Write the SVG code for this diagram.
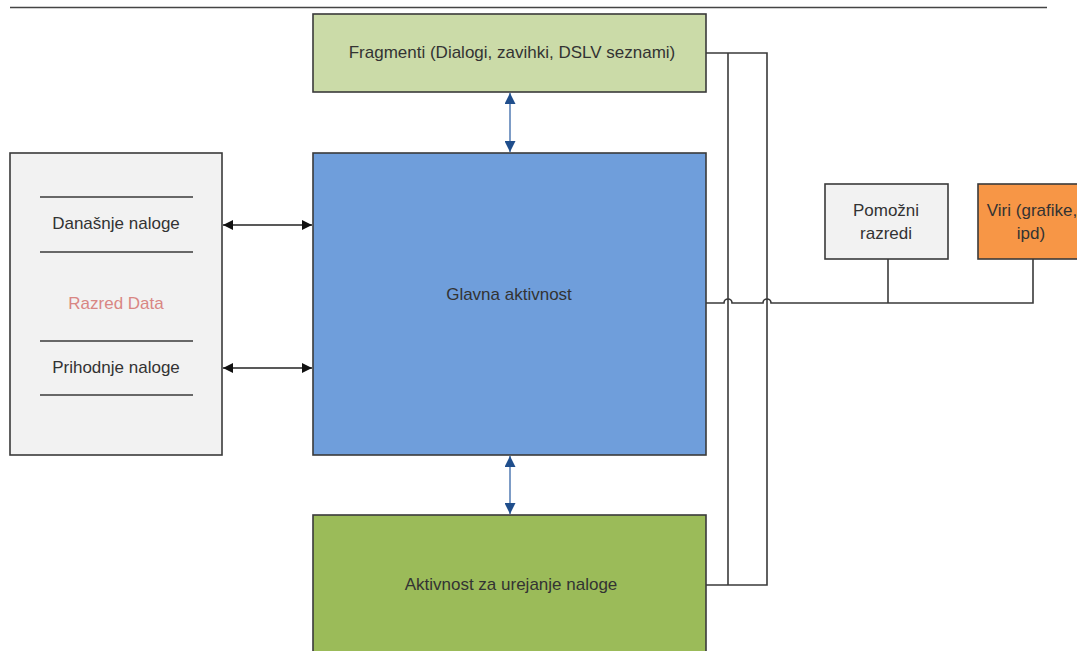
<svg xmlns="http://www.w3.org/2000/svg" width="1077" height="651" viewBox="0 0 1077 651">
<defs>
<style>
.box{stroke:#3a3a3a;stroke-width:1.6}
.t{font-family:"Liberation Sans",Arial,sans-serif;font-size:17px;fill:#333;text-anchor:middle;dominant-baseline:central}
.ln{stroke:#3a3a3a;stroke-width:1.6;fill:none}
.blk{stroke:#222;stroke-width:1.6;fill:none}
.blu{stroke:#7d9cc6;stroke-width:2;fill:none}
</style>
<marker id="ab" viewBox="0 0 10 10" refX="10" refY="5" markerWidth="11" markerHeight="10" markerUnits="userSpaceOnUse" orient="auto-start-reverse"><path d="M0,0 L10,5 L0,10 z" fill="#111"/></marker>
<marker id="au" viewBox="0 0 10 10" refX="10" refY="5" markerWidth="11" markerHeight="11" markerUnits="userSpaceOnUse" orient="auto-start-reverse"><path d="M0,0 L10,5 L0,10 z" fill="#1f4e8c"/></marker>
</defs>
<rect width="1077" height="651" fill="#fff"/>
<line x1="10" y1="7.5" x2="1047" y2="7.5" stroke="#444" stroke-width="1.6"/>

<g id="connectors">
<path class="ln" d="M706,53 H767 V585 H706"/>
<path class="ln" d="M728,53 V585"/>
<path class="ln" d="M706,303 H724 A4,4 0 0 1 732,303 H763 A4,4 0 0 1 771,303 H1033 V259"/>
<path class="ln" d="M888,303 V259"/>
<line class="blk" x1="223" y1="225" x2="312" y2="225" marker-start="url(#ab)" marker-end="url(#ab)"/>
<line class="blk" x1="223" y1="368" x2="312" y2="368" marker-start="url(#ab)" marker-end="url(#ab)"/>
<line class="blu" x1="510" y1="93" x2="510" y2="152" marker-start="url(#au)" marker-end="url(#au)"/>
<line class="blu" x1="510" y1="456" x2="510" y2="514" marker-start="url(#au)" marker-end="url(#au)"/>
</g>

<g id="fragmenti">
<rect class="box" x="313" y="14" width="393" height="78" fill="#cbdba8"/>
<text class="t" x="512" y="52">Fragmenti (Dialogi, zavihki, DSLV seznami)</text>
</g>

<g id="glavna">
<rect class="box" x="313" y="153" width="393" height="302" fill="#6f9edb"/>
<text class="t" x="509" y="294">Glavna aktivnost</text>
</g>

<g id="aktivnost">
<rect class="box" x="313" y="515" width="393" height="150" fill="#9bbb59"/>
<text class="t" x="511" y="584">Aktivnost za urejanje naloge</text>
</g>

<g id="razred-data">
<rect class="box" x="10" y="153" width="212" height="302" fill="#f2f2f2"/>
<line class="ln" x1="40" y1="197" x2="193" y2="197"/>
<line class="ln" x1="40" y1="252" x2="193" y2="252"/>
<line class="ln" x1="40" y1="341" x2="193" y2="341"/>
<line class="ln" x1="40" y1="395" x2="193" y2="395"/>
<text class="t" x="116" y="223">Današnje naloge</text>
<text class="t" x="116" y="303" style="fill:#d98683">Razred Data</text>
<text class="t" x="116" y="367">Prihodnje naloge</text>
</g>

<g id="pomozni">
<rect class="box" x="825" y="184" width="123" height="75" fill="#f2f2f2"/>
<text class="t" x="886" y="210">Pomožni</text>
<text class="t" x="886" y="233">razredi</text>
</g>

<g id="viri">
<rect class="box" x="978" y="184" width="110" height="75" fill="#f79646"/>
<text class="t" x="1032" y="210">Viri (grafike,</text>
<text class="t" x="1031" y="233">ipd)</text>
</g>
</svg>
